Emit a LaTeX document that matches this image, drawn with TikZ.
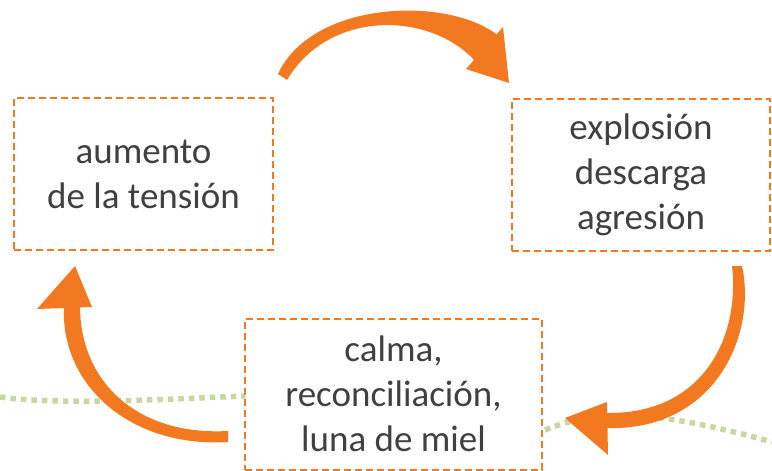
\documentclass[tikz,border=0pt]{standalone}
\usepackage{fontspec}
\setmainfont{Carlito}
\definecolor{org}{RGB}{243,121,33}
\definecolor{grn}{RGB}{197,216,160}
\definecolor{txt}{RGB}{64,64,64}
\begin{document}
\begin{tikzpicture}[x=1pt,y=-1pt,
  box/.style={draw=org, line width=2pt, dash pattern=on 7pt off 4pt, fill=white,
    align=center, text=txt, font=\fontsize{37}{45}\selectfont, inner sep=0pt},
  shaft/.style={fill=org},
  head/.style={fill=org},
  dotline/.style={draw=grn, line width=5.5pt, dash pattern=on 5.5pt off 5pt}]
\useasboundingbox (0,0) rectangle (772,471);
% green dotted line
\coordinate (g1) at (0,397);
\coordinate (g2) at (245,396);
\coordinate (g3) at (545,430);
\coordinate (g4) at (772,442);
\draw[dotline] (g1) .. controls (60,405) and (150,400) .. (g2);
\draw[dotline] (g3) .. controls (590,412) and (640,405) .. (g4);
% boxes
\node[box, minimum width=259pt, minimum height=152pt] (a) at (143.5,174) {aumento\\de la tensión};
\node[box, minimum width=258pt, minimum height=152pt] (b) at (641,174.5) {explosión\\descarga\\agresión};
\node[box, minimum width=297pt, minimum height=151pt] (c) at (393.5,394) {calma,\\reconciliación,\\luna de miel};
% top arrow
\coordinate (t0) at (278,74);
\coordinate (t1) at (500,37);
\fill[shaft] (t0) .. controls (312,0) and (450,-5) .. (t1)
  -- (476,62) .. controls (432,12) and (330,8) .. (287,80) -- cycle;
\fill[head] (509,83) -- (503,27) -- (466,69) -- cycle;
% right arrow
\coordinate (r0) at (742,266);
\coordinate (r1) at (605,428);
\fill[shaft] (r0) .. controls (757,335) and (715,432) .. (r1)
  -- (605,413) .. controls (705,415) and (740,335) .. (732,266) -- cycle;
\fill[head] (565,418) -- (607,402) -- (608,455) -- cycle;
% left arrow
\coordinate (l0) at (228,442);
\coordinate (l1) at (64,306);
\fill[shaft] (l1) .. controls (60,385) and (130,448) .. (l0)
  -- (228,431) .. controls (135,436) and (80,380) .. (80,306) -- cycle;
\fill[head] (75,266) -- (37,309) -- (92,307) -- cycle;
\end{tikzpicture}
\end{document}
